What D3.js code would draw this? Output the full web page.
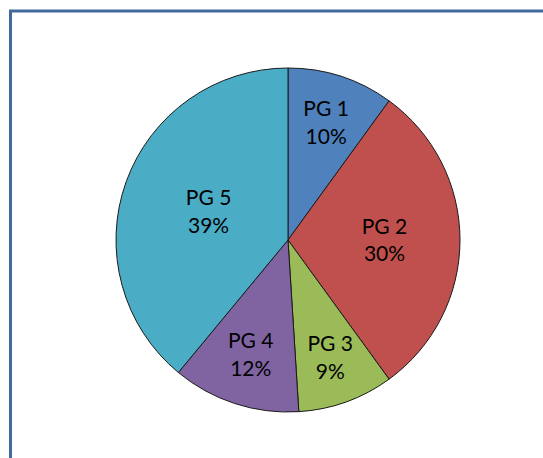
<!DOCTYPE html>
<html>
<head>
<meta charset="utf-8">
<script src="https://cdn.jsdelivr.net/npm/d3@7/dist/d3.min.js"></script>
<style>
  html, body { margin: 0; padding: 0; background: #fff; }
  svg { display: block; }
</style>
</head>
<body>
<svg id="chart" width="543" height="458"></svg>
<script>
// Share of each product group, in percent
const categories = ["PG 1", "PG 2", "PG 3", "PG 4", "PG 5"];
const shares = [10, 30, 9, 12, 39];
const colors = ["#4F81BD", "#C0504D", "#9BBB59", "#8064A2", "#4BACC6"];

const svg = d3.select("#chart");
const W = 543, H = 458;

// Chart area frame (runs off the right and bottom edges)
svg.append("path")
  .attr("d", `M10.5,${H + 5} L10.5,11 L${W + 5},11`)
  .attr("fill", "none")
  .attr("stroke", "#41699B")
  .attr("stroke-width", 3);

const cx = 288, cy = 240, radius = 172;
const g = svg.append("g").attr("transform", `translate(${cx},${cy})`);

const data = categories.map((c, i) => ({ name: c, value: shares[i], color: colors[i] }));
const pie = d3.pie().value(d => d.value).sort(null);
const arcs = pie(data);
const total = d3.sum(shares);

const arc = d3.arc().innerRadius(0).outerRadius(radius);

g.selectAll("path.slice")
  .data(arcs)
  .enter().append("path")
  .attr("class", "slice")
  .attr("d", arc)
  .attr("fill", d => d.data.color)
  .attr("stroke", "#1a1a1a")
  .attr("stroke-width", 1)
  .attr("stroke-linejoin", "round");

// Labels: the bigger the slice, the closer its label sits to the centre
const labelPos = d => {
  const frac = d.data.value / total;
  const r = radius * (0.795 - 0.78 * frac);
  const a = (d.startAngle + d.endAngle) / 2;
  return [Math.sin(a) * r, -Math.cos(a) * r];
};

const labels = g.selectAll("text.lbl")
  .data(arcs)
  .enter().append("text")
  .attr("class", "lbl")
  .attr("text-anchor", "middle")
  .attr("font-family", "Lato, 'Open Sans', sans-serif")
  .attr("font-size", 21)
  .attr("fill", "#000")
  .attr("transform", d => `translate(${labelPos(d)})`);

labels.append("tspan")
  .attr("x", 0)
  .attr("dy", "-0.31em")
  .text(d => d.data.name);
labels.append("tspan")
  .attr("x", 0)
  .attr("dy", "1.33em")
  .text(d => Math.round(d.data.value / total * 100) + "%");
</script>
</body>
</html>
